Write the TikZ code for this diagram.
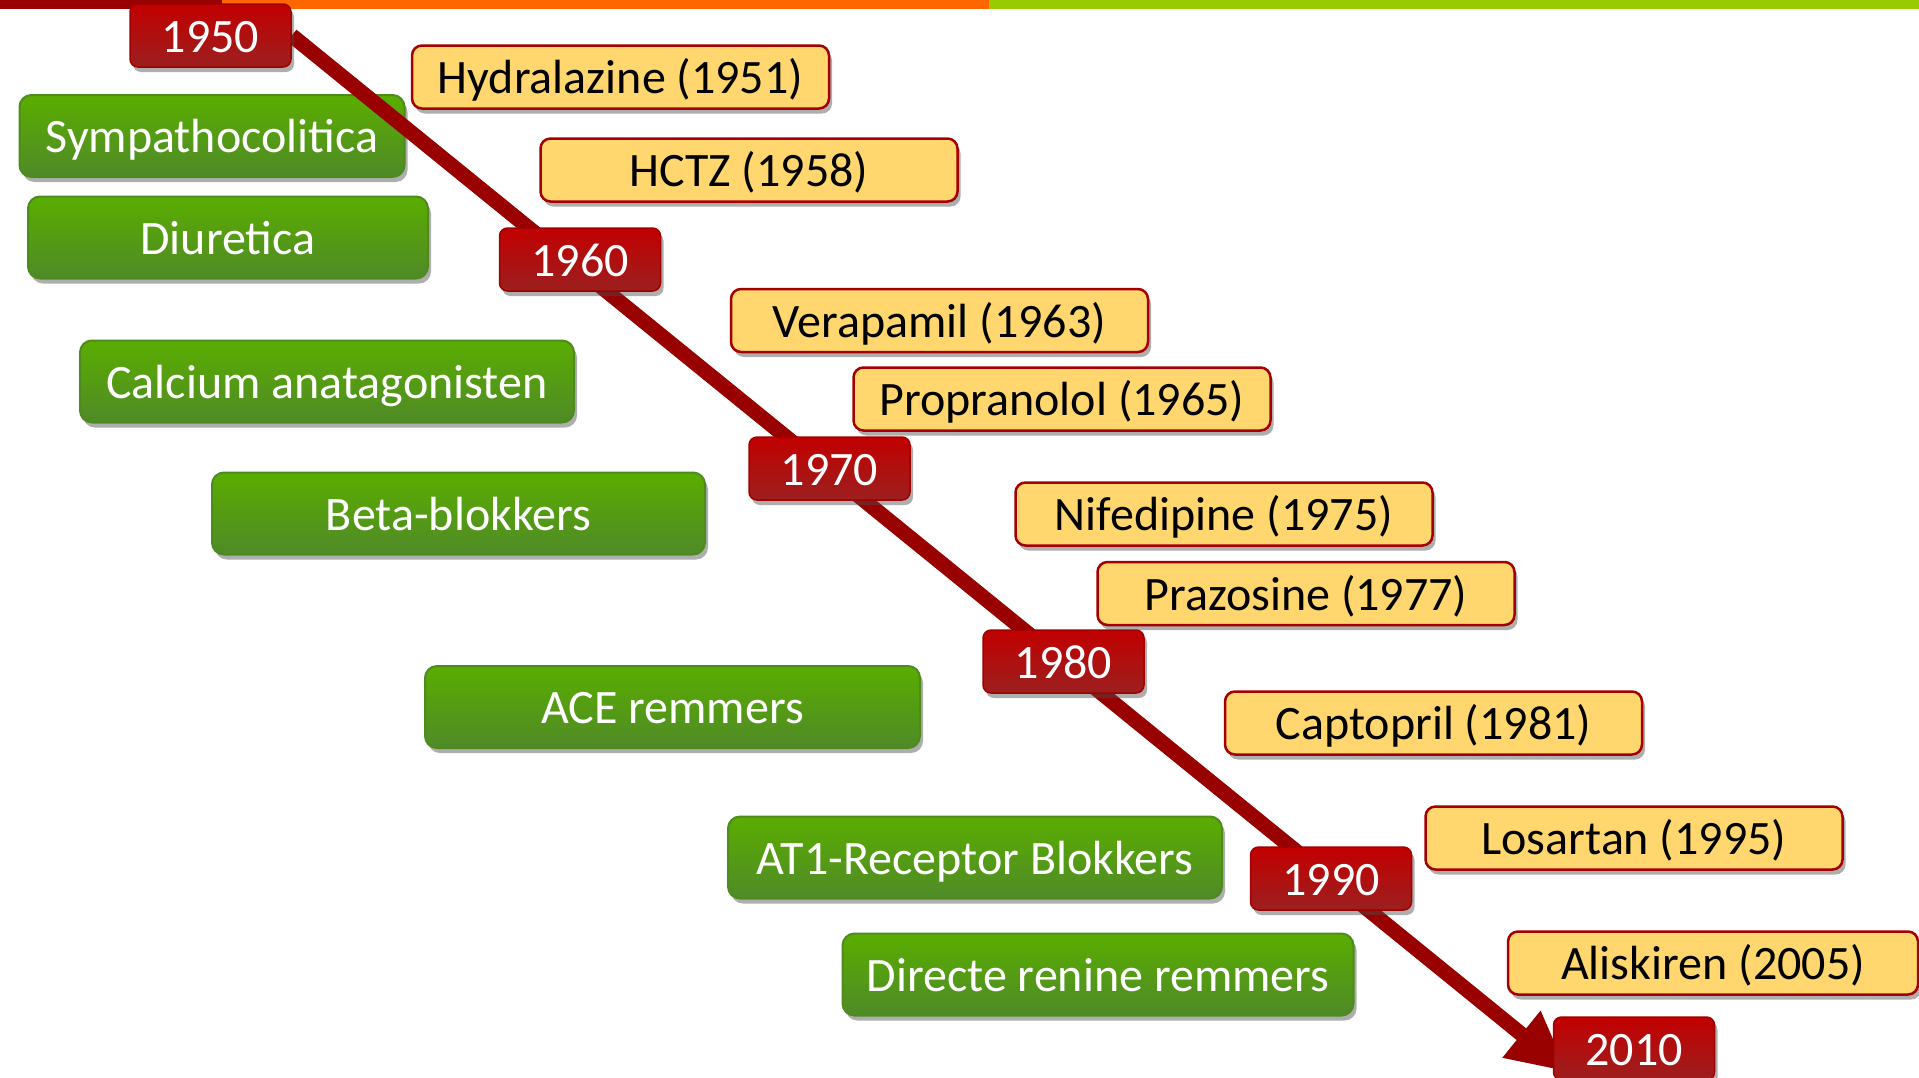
\documentclass[tikz,border=0pt]{standalone}
\usepackage{fontspec}
\setmainfont{Carlito}
\usetikzlibrary{shadows,arrows.meta}
\definecolor{barred}{HTML}{990000}
\definecolor{barorange}{HTML}{FF6600}
\definecolor{bargreen}{HTML}{99CC00}
\definecolor{arrowred}{HTML}{990000}
\definecolor{yeartop}{HTML}{C20000}
\definecolor{yearbot}{HTML}{9C1F1F}
\definecolor{yearline}{HTML}{A00000}
\definecolor{yellowfill}{HTML}{FFD76E}
\definecolor{yellowline}{HTML}{A50000}
\definecolor{greentop}{HTML}{5AAD00}
\definecolor{greenbot}{HTML}{4F8A28}
\definecolor{greenline}{HTML}{4D8B1F}
\pgfdeclarelayer{bottom}
\pgfdeclarelayer{back}
\pgfdeclarelayer{arrowlayer}
\pgfsetlayers{bottom,back,arrowlayer,main}
\tikzset{
  boxshadow/.style={drop shadow={shadow xshift=3pt,shadow yshift=-5pt,opacity=0.45,fill=black!70}},
  boxtext/.style={font=\fontsize{48}{48}\selectfont, text height=40pt, text depth=7pt},
  yearbox/.style={rounded corners=8pt, minimum width=161pt, minimum height=63pt, inner sep=0pt,
    draw=yearline, line width=1.5pt, top color=yeartop, bottom color=yearbot, text=white,
    boxtext, boxshadow},
  drugbox/.style={rounded corners=10pt, minimum width=417pt, minimum height=63pt, inner sep=0pt,
    draw=yellowline, line width=2.5pt, fill=yellowfill, text=black,
    boxtext, boxshadow},
  classbox/.style={rounded corners=12pt, minimum height=82pt, inner sep=0pt,
    draw=greenline, line width=2pt, top color=greentop, bottom color=greenbot, text=white,
    boxtext, boxshadow},
  timeline/.style={draw=arrowred, line width=15pt, -{Triangle[length=60pt,width=56pt]}}
}
\begin{document}
\begin{tikzpicture}[x=1pt,y=-1pt]
\useasboundingbox (0,0) rectangle (1919,1077);
\begin{pgfonlayer}{bottom}
\fill[white] (0,0) rectangle (1919,1077);
% top bar
\fill[barred] (0,0) rectangle (222,9);
\fill[barorange] (222,0) rectangle (989,9);
\fill[bargreen] (989,0) rectangle (1919,9);
\end{pgfonlayer}

% year boxes
\node[yearbox] (y1950) at (210.5,35.5) {1950};
\node[yearbox] (y1960) at (580,259.5) {1960};
\node[yearbox] (y1970) at (829.5,468.5) {1970};
\node[yearbox] (y1980) at (1063.5,661.5) {1980};
\node[yearbox] (y1990) at (1331,878.5) {1990};
\node[yearbox] (y2010) at (1634,1048.5) {2010};

% drug boxes
\node[drugbox] (hyd) at (620.5,77) {Hydralazine (1951)};
\node[drugbox] (hctz) at (749,170) {HCTZ (1958)};
\node[drugbox] (vera) at (939.5,320.5) {Verapamil (1963)};
\node[drugbox] (prop) at (1062,399) {Propranolol (1965)};
\node[drugbox] (nife) at (1224,514) {Nifedipine (1975)};
\node[drugbox] (praz) at (1306,593.5) {Prazosine (1977)};
\node[drugbox] (capt) at (1433.5,723) {Captopril (1981)};
\node[drugbox] (losa) at (1634,838) {Losartan (1995)};
\node[drugbox, minimum width=410pt] (alis) at (1713,963) {Aliskiren (2005)};

% timeline arrow
\coordinate (tip) at (1568,1072);
\begin{pgfonlayer}{arrowlayer}
\draw[timeline] (y1950.east) -- (tip);
\end{pgfonlayer}

% class boxes
\begin{pgfonlayer}{back}
\node[classbox, minimum width=385pt] (symp) at (212,136) {Sympathocolitica};
\node[classbox, minimum width=400pt] (diur) at (228,237.5) {Diuretica};
\node[classbox, minimum width=494pt] (calc) at (327,381.5) {Calcium anatagonisten};
\node[classbox, minimum width=493pt] (beta) at (458.5,513.5) {Beta-blokkers};
\node[classbox, minimum width=495pt] (ace) at (672.5,707) {ACE remmers};
\node[classbox, minimum width=494pt] (at1) at (975,857.5) {AT1-Receptor Blokkers};
\node[classbox, minimum width=511pt] (dir) at (1098,974.5) {Directe renine remmers};
\end{pgfonlayer}
\end{tikzpicture}
\end{document}
